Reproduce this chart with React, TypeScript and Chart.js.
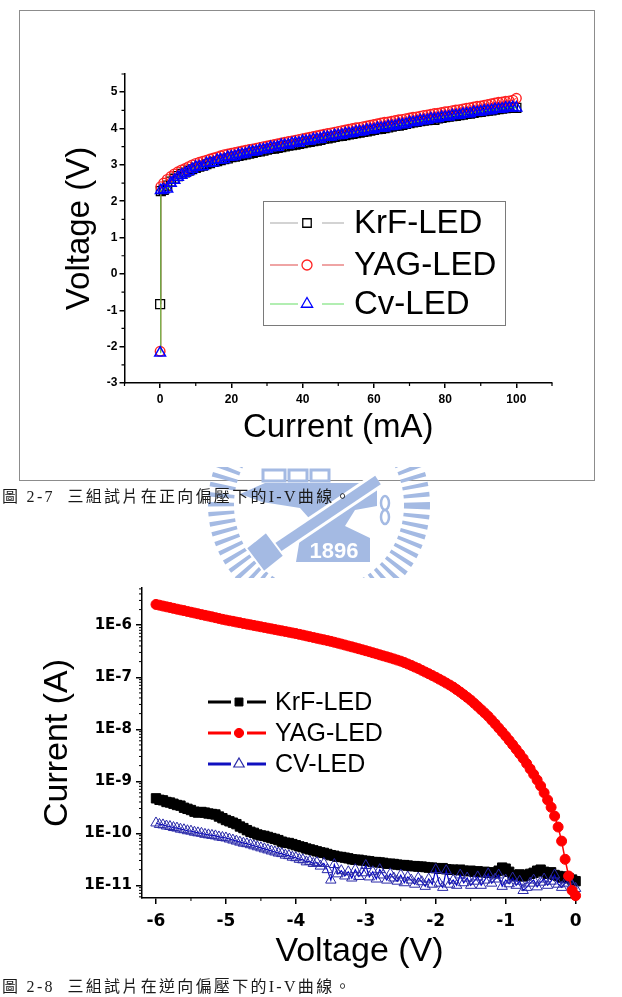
import React, { useEffect, useRef } from "react";
import { Chart, registerables } from "chart.js";

Chart.register(...registerables);

const SANS = '"Liberation Sans", Arial, Helvetica, sans-serif';
const WIDE = '"DejaVu Sans", Verdana, sans-serif';

// ---------------- Figure 2-7 : forward bias ----------------
const fwdCurrent = [
  0, 0.2,
  1, 2, 3, 4, 5, 6, 7, 8, 9, 10,
  11, 12, 13, 14, 15, 16, 17, 18, 19, 20,
  21, 22, 23, 24, 25, 26, 27, 28, 29, 30,
  31, 32, 33, 34, 35, 36, 37, 38, 39, 40,
  41, 42, 43, 44, 45, 46, 47, 48, 49, 50,
  51, 52, 53, 54, 55, 56, 57, 58, 59, 60,
  61, 62, 63, 64, 65, 66, 67, 68, 69, 70,
  71, 72, 73, 74, 75, 76, 77, 78, 79, 80,
  81, 82, 83, 84, 85, 86, 87, 88, 89, 90,
  91, 92, 93, 94, 95, 96, 97, 98, 99, 100,
];
const fwdKrF = [
  -0.83, 2.28,
  2.31, 2.43, 2.54, 2.62, 2.69, 2.75, 2.79, 2.84, 2.88, 2.92,
  2.95, 2.98, 3.02, 3.05, 3.08, 3.10, 3.13, 3.16, 3.18, 3.21,
  3.23, 3.25, 3.27, 3.29, 3.31, 3.33, 3.36, 3.37, 3.39, 3.42,
  3.44, 3.45, 3.47, 3.49, 3.51, 3.53, 3.54, 3.56, 3.58, 3.60,
  3.62, 3.63, 3.65, 3.67, 3.69, 3.72, 3.73, 3.75, 3.77, 3.79,
  3.80, 3.82, 3.84, 3.85, 3.87, 3.89, 3.91, 3.92, 3.94, 3.96,
  3.98, 3.99, 4.01, 4.03, 4.05, 4.07, 4.08, 4.10, 4.13, 4.15,
  4.17, 4.18, 4.20, 4.22, 4.23, 4.25, 4.24, 4.28, 4.29, 4.31,
  4.33, 4.34, 4.35, 4.37, 4.38, 4.40, 4.41, 4.43, 4.45, 4.46,
  4.48, 4.49, 4.50, 4.52, 4.53, 4.55, 4.56, 4.57, 4.58, 4.57,
];
const fwdYAG = [
  -2.13, 2.40,
  2.50, 2.60, 2.68, 2.75, 2.81, 2.86, 2.90, 2.95, 3.00, 3.04,
  3.07, 3.10, 3.13, 3.16, 3.19, 3.22, 3.25, 3.28, 3.30, 3.32,
  3.34, 3.36, 3.38, 3.40, 3.42, 3.44, 3.46, 3.48, 3.50, 3.52,
  3.54, 3.56, 3.58, 3.60, 3.62, 3.64, 3.66, 3.68, 3.70, 3.72,
  3.74, 3.76, 3.78, 3.80, 3.82, 3.84, 3.86, 3.88, 3.90, 3.92,
  3.94, 3.96, 3.98, 4.00, 4.02, 4.03, 4.05, 4.07, 4.09, 4.11,
  4.13, 4.15, 4.17, 4.18, 4.20, 4.22, 4.24, 4.25, 4.27, 4.29,
  4.31, 4.32, 4.34, 4.36, 4.37, 4.39, 4.41, 4.42, 4.44, 4.46,
  4.47, 4.49, 4.51, 4.52, 4.54, 4.56, 4.57, 4.59, 4.61, 4.62,
  4.64, 4.66, 4.68, 4.70, 4.72, 4.73, 4.75, 4.76, 4.78, 4.83,
];
const fwdCv = [
  -2.17, 2.30,
  2.32, 2.34, 2.50, 2.58, 2.66, 2.72, 2.77, 2.82, 2.88, 2.94,
  2.95, 2.96, 3.04, 3.05, 3.06, 3.13, 3.14, 3.15, 3.21, 3.22,
  3.23, 3.28, 3.29, 3.30, 3.35, 3.36, 3.37, 3.41, 3.42, 3.43,
  3.48, 3.48, 3.49, 3.54, 3.54, 3.55, 3.59, 3.60, 3.60, 3.65,
  3.65, 3.66, 3.70, 3.70, 3.71, 3.76, 3.76, 3.77, 3.81, 3.81,
  3.82, 3.86, 3.86, 3.87, 3.91, 3.91, 3.92, 3.96, 3.96, 3.97,
  4.01, 4.01, 4.02, 4.06, 4.06, 4.07, 4.11, 4.11, 4.12, 4.17,
  4.17, 4.18, 4.22, 4.22, 4.23, 4.27, 4.27, 4.28, 4.31, 4.32,
  4.32, 4.36, 4.36, 4.37, 4.40, 4.41, 4.41, 4.45, 4.45, 4.46,
  4.49, 4.49, 4.50, 4.53, 4.53, 4.54, 4.57, 4.57, 4.58, 4.57,
];
const fwdXTicks = [0, 20, 40, 60, 80, 100];
const fwdXMinor = [-10, 10, 30, 50, 70, 90, 110];
const fwdYTicks = [-3, -2, -1, 0, 1, 2, 3, 4, 5];
const fwdYMinor = [-2.5, -1.5, -0.5, 0.5, 1.5, 2.5, 3.5, 4.5, 5.5];
const fwdLabels = ["KrF-LED", "YAG-LED", "Cv-LED"];

// ---------------- Figure 2-8 : reverse bias ----------------
const revVoltage = [
  -6.0, -5.95, -5.9, -5.85, -5.8, -5.75, -5.7, -5.65, -5.6, -5.55,
  -5.5, -5.45, -5.4, -5.35, -5.3, -5.25, -5.2, -5.15, -5.1, -5.05,
  -5.0, -4.95, -4.9, -4.85, -4.8, -4.75, -4.7, -4.65, -4.6, -4.55,
  -4.5, -4.45, -4.4, -4.35, -4.3, -4.25, -4.2, -4.15, -4.1, -4.05,
  -4.0, -3.95, -3.9, -3.85, -3.8, -3.75, -3.7, -3.65, -3.6, -3.55,
  -3.5, -3.45, -3.4, -3.35, -3.3, -3.25, -3.2, -3.15, -3.1, -3.05,
  -3.0, -2.95, -2.9, -2.85, -2.8, -2.75, -2.7, -2.65, -2.6, -2.55,
  -2.5, -2.45, -2.4, -2.35, -2.3, -2.25, -2.2, -2.15, -2.1, -2.05,
  -2.0, -1.95, -1.9, -1.85, -1.8, -1.75, -1.7, -1.65, -1.6, -1.55,
  -1.5, -1.45, -1.4, -1.35, -1.3, -1.25, -1.2, -1.15, -1.1, -1.05,
  -1.0, -0.95, -0.9, -0.85, -0.8, -0.75, -0.7, -0.65, -0.6, -0.55,
  -0.5, -0.45, -0.4, -0.35, -0.3, -0.25, -0.2, -0.15, -0.1, -0.05,
  0.0,
];
const revKrF = [
  4.7e-10, 4.4e-10, 4.3e-10, 4.0e-10, 3.9e-10, 3.7e-10, 3.5e-10, 3.4e-10, 3.1e-10, 2.95e-10,
  2.8e-10, 2.6e-10, 2.5e-10, 2.57e-10, 2.5e-10, 2.4e-10, 2.35e-10, 2.3e-10, 2.1e-10, 1.95e-10,
  1.8e-10, 1.7e-10, 1.6e-10, 1.5e-10, 1.35e-10, 1.26e-10, 1.15e-10, 1.07e-10, 1.02e-10, 9.5e-11,
  9.1e-11, 8.9e-11, 8.5e-11, 8.1e-11, 7.8e-11, 7.4e-11, 6.9e-11, 6.6e-11, 6.5e-11, 6.2e-11,
  5.9e-11, 5.6e-11, 5.4e-11, 5.1e-11, 4.9e-11, 4.7e-11, 4.5e-11, 4.3e-11, 4.2e-11, 4.0e-11,
  3.8e-11, 3.7e-11, 3.55e-11, 3.5e-11, 3.4e-11, 3.3e-11, 3.16e-11, 3.1e-11, 3.1e-11, 3.0e-11,
  2.95e-11, 2.9e-11, 2.8e-11, 2.8e-11, 2.75e-11, 2.7e-11, 2.6e-11, 2.6e-11, 2.57e-11, 2.5e-11,
  2.45e-11, 2.45e-11, 2.4e-11, 2.34e-11, 2.34e-11, 2.29e-11, 2.29e-11, 2.24e-11, 2.19e-11, 2.19e-11,
  2.14e-11, 2.09e-11, 2.14e-11, 2.04e-11, 2.0e-11, 2.0e-11, 1.95e-11, 2.0e-11, 1.91e-11, 1.86e-11,
  1.91e-11, 1.82e-11, 1.86e-11, 1.78e-11, 1.82e-11, 1.74e-11, 1.78e-11, 1.7e-11, 1.91e-11, 2.19e-11,
  2.09e-11, 1.82e-11, 1.58e-11, 1.51e-11, 1.62e-11, 1.48e-11, 1.55e-11, 1.66e-11, 1.74e-11, 1.91e-11,
  2.0e-11, 1.82e-11, 1.66e-11, 1.78e-11, 1.58e-11, 1.51e-11, 1.41e-11, 1.48e-11, 1.38e-11, 1.29e-11,
  1.2e-11,
];
const revYAG = [
  2.51e-6, 2.43e-6, 2.34e-6, 2.26e-6, 2.19e-6, 2.11e-6, 2.04e-6, 1.97e-6, 1.91e-6, 1.84e-6,
  1.78e-6, 1.72e-6, 1.66e-6, 1.6e-6, 1.55e-6, 1.5e-6, 1.45e-6, 1.4e-6, 1.35e-6, 1.3e-6,
  1.26e-6, 1.22e-6, 1.19e-6, 1.15e-6, 1.12e-6, 1.08e-6, 1.05e-6, 1.02e-6, 9.91e-7, 9.62e-7,
  9.33e-7, 9.06e-7, 8.79e-7, 8.53e-7, 8.28e-7, 8.04e-7, 7.8e-7, 7.57e-7, 7.35e-7, 7.13e-7,
  6.92e-7, 6.68e-7, 6.46e-7, 6.24e-7, 6.03e-7, 5.82e-7, 5.62e-7, 5.43e-7, 5.25e-7, 5.07e-7,
  4.9e-7, 4.71e-7, 4.53e-7, 4.35e-7, 4.17e-7, 4.0e-7, 3.84e-7, 3.68e-7, 3.53e-7, 3.38e-7,
  3.24e-7, 3.1e-7, 2.96e-7, 2.83e-7, 2.7e-7, 2.58e-7, 2.47e-7, 2.36e-7, 2.25e-7, 2.14e-7,
  2.04e-7, 1.92e-7, 1.8e-7, 1.69e-7, 1.57e-7, 1.47e-7, 1.36e-7, 1.26e-7, 1.17e-7, 1.08e-7,
  1.0e-7, 9.2e-8, 8.45e-8, 7.74e-8, 7.08e-8, 6.46e-8, 5.79e-8, 5.19e-8, 4.62e-8, 4.1e-8,
  3.63e-8, 3.16e-8, 2.75e-8, 2.38e-8, 2.06e-8, 1.78e-8, 1.5e-8, 1.27e-8, 1.06e-8, 8.89e-9,
  7.41e-9, 6.12e-9, 5.05e-9, 4.14e-9, 3.38e-9, 2.75e-9, 2.19e-9, 1.73e-9, 1.36e-9, 1.06e-9,
  8.13e-10, 6.03e-10, 4.37e-10, 3.16e-10, 2.14e-10, 1.32e-10, 7.08e-11, 3.16e-11, 1.51e-11, 7.94e-12,
  6.31e-12,
];
const revCV = [
  1.58e-10, 1.48e-10, 1.45e-10, 1.38e-10, 1.35e-10, 1.29e-10, 1.26e-10, 1.2e-10, 1.17e-10, 1.12e-10,
  1.1e-10, 1.05e-10, 1.02e-10, 1.0e-10, 9.55e-11, 9.33e-11, 9.12e-11, 8.91e-11, 8.51e-11, 8.32e-11,
  8.13e-11, 7.76e-11, 7.41e-11, 7.08e-11, 6.76e-11, 6.46e-11, 6.31e-11, 6.03e-11, 5.75e-11, 5.5e-11,
  5.25e-11, 5.01e-11, 4.79e-11, 4.57e-11, 4.37e-11, 4.17e-11, 4.07e-11, 3.8e-11, 3.72e-11, 3.47e-11,
  3.39e-11, 3.16e-11, 3.09e-11, 2.82e-11, 2.88e-11, 2.63e-11, 2.75e-11, 2.34e-11, 2.63e-11, 2.0e-11,
  1.26e-11, 2.51e-11, 1.66e-11, 1.91e-11, 1.51e-11, 1.82e-11, 1.38e-11, 2.0e-11, 1.48e-11, 1.74e-11,
  2.4e-11, 1.45e-11, 1.82e-11, 1.32e-11, 2.0e-11, 1.58e-11, 1.26e-11, 1.66e-11, 1.38e-11, 1.2e-11,
  1.58e-11, 1.12e-11, 1.45e-11, 1.26e-11, 1.05e-11, 1.38e-11, 1.17e-11, 9.55e-12, 1.32e-11, 1.05e-11,
  2.0e-11, 1.1e-11, 9.12e-12, 1.91e-11, 1.05e-11, 1.26e-11, 1.0e-11, 1.58e-11, 1.12e-11, 1.38e-11,
  1.0e-11, 1.2e-11, 1.45e-11, 1.0e-11, 1.26e-11, 1.66e-11, 1.1e-11, 1.32e-11, 1.58e-11, 9.55e-12,
  1.26e-11, 1.07e-11, 1.38e-11, 1.0e-11, 1.2e-11, 7.94e-12, 9.12e-12, 1.1e-11, 1.26e-11, 9.33e-12,
  1.15e-11, 1.32e-11, 1.0e-11, 1.2e-11, 1.58e-11, 1.05e-11, 9.12e-12, 1.1e-11, 1.26e-11, 1.0e-11,
  8.71e-12,
];
const revXTicks = [-6, -5, -4, -3, -2, -1, 0];
const revXMinor = [-5.5, -4.5, -3.5, -2.5, -1.5, -0.5];
const revYTicks = [1e-11, 1e-10, 1e-9, 1e-8, 1e-7, 1e-6];
const revYTickLabels = ["1E-11", "1E-10", "1E-9", "1E-8", "1E-7", "1E-6"];
const revYMinorDecades = [1e-12, 1e-11, 1e-10, 1e-9, 1e-8, 1e-7, 1e-6];
const revYMinorSteps = [2, 3, 4, 5, 6, 7, 8, 9];
const revLabels = ["KrF-LED", "YAG-LED", "CV-LED"];

// ---------------- helpers ----------------
const zip = (xs: number[], ys: number[]) => xs.map((x, i) => ({ x, y: ys[i] }));

function drawMarker(ctx: CanvasRenderingContext2D, style: string, x: number, y: number, r: number, stroke: string, fill: string | null, lw: number) {
  ctx.save();
  ctx.beginPath();
  if (style === "circle") {
    ctx.arc(x, y, r, 0, Math.PI * 2);
  } else if (style === "rect") {
    const s = r * Math.SQRT1_2;
    ctx.rect(x - s, y - s, 2 * s, 2 * s);
  } else {
    let a = 0;
    ctx.moveTo(x + Math.sin(a) * r, y - Math.cos(a) * r);
    a += (2 * Math.PI) / 3;
    ctx.lineTo(x + Math.sin(a) * r, y - Math.cos(a) * r);
    a += (2 * Math.PI) / 3;
    ctx.lineTo(x + Math.sin(a) * r, y - Math.cos(a) * r);
    ctx.closePath();
  }
  if (fill) {
    ctx.fillStyle = fill;
    ctx.fill();
  }
  ctx.lineWidth = lw;
  ctx.strokeStyle = stroke;
  ctx.stroke();
  ctx.restore();
}

function minorTicksPlugin(cfg: { x: number[]; y: number[]; len: number; width: number }) {
  return {
    id: "minorTicks",
    afterDraw(chart: any) {
      const { ctx, chartArea: a, scales } = chart;
      ctx.save();
      ctx.strokeStyle = "#000";
      ctx.lineWidth = cfg.width;
      ctx.beginPath();
      cfg.x.forEach((v) => {
        const p = scales.x.getPixelForValue(v);
        if (p < a.left - 1 || p > a.right + 1) return;
        ctx.moveTo(p, a.bottom);
        ctx.lineTo(p, a.bottom + cfg.len);
      });
      cfg.y.forEach((v) => {
        const p = scales.y.getPixelForValue(v);
        if (p < a.top - 1 || p > a.bottom + 1) return;
        ctx.moveTo(a.left, p);
        ctx.lineTo(a.left - cfg.len, p);
      });
      ctx.stroke();
      ctx.restore();
    },
  };
}

type LegendRow = { label: string; y: number; line: string; style: string; r: number; stroke: string; fill: string | null; lw: number };
function legendPlugin(cfg: {
  box?: { x: number; y: number; w: number; h: number; color: string };
  rows: LegendRow[];
  seg1: [number, number];
  seg2: [number, number];
  markerX: number;
  textX: number;
  font: string;
  lineWidth: number;
}) {
  return {
    id: "boxLegend",
    afterDraw(chart: any) {
      const ctx: CanvasRenderingContext2D = chart.ctx;
      ctx.save();
      if (cfg.box) {
        ctx.fillStyle = "#fff";
        ctx.fillRect(cfg.box.x, cfg.box.y, cfg.box.w, cfg.box.h);
        ctx.strokeStyle = cfg.box.color;
        ctx.lineWidth = 1;
        ctx.strokeRect(cfg.box.x + 0.5, cfg.box.y + 0.5, cfg.box.w, cfg.box.h);
      }
      cfg.rows.forEach((row) => {
        ctx.strokeStyle = row.line;
        ctx.lineWidth = cfg.lineWidth;
        ctx.beginPath();
        ctx.moveTo(cfg.seg1[0], row.y);
        ctx.lineTo(cfg.seg1[1], row.y);
        ctx.moveTo(cfg.seg2[0], row.y);
        ctx.lineTo(cfg.seg2[1], row.y);
        ctx.stroke();
        drawMarker(ctx, row.style, cfg.markerX, row.y, row.r, row.stroke, row.fill, row.lw);
        ctx.fillStyle = "#000";
        ctx.font = cfg.font;
        ctx.textBaseline = "middle";
        ctx.textAlign = "left";
        ctx.fillText(row.label, cfg.textX, row.y + 1);
      });
      ctx.restore();
    },
  };
}

const axisCommon = (tickLen: number) => ({
  grid: { display: true, drawOnChartArea: false, drawTicks: true, tickLength: tickLen, color: "#000", lineWidth: 1.5 },
  border: { display: true, color: "#000", width: 1.5 },
});

// ---------------- Figure 2-7 chart ----------------
function ForwardChart() {
  const ref = useRef<HTMLCanvasElement>(null);
  useEffect(() => {
    if (!ref.current) return;
    const chart = new Chart(ref.current, {
      type: "scatter",
      data: {
        datasets: [
          {
            label: fwdLabels[2], data: zip(fwdCurrent, fwdCv), showLine: true, order: 0, clip: false,
            borderColor: "#3ccc3c", borderWidth: 1, pointStyle: "triangle", pointRadius: 6.2,
            pointBorderColor: "#0000ff", pointBackgroundColor: "rgba(0,0,0,0)", pointBorderWidth: 1.5,
          },
          {
            label: fwdLabels[1], data: zip(fwdCurrent, fwdYAG), showLine: true, order: 1, clip: false,
            borderColor: "#ff3030", borderWidth: 1, pointStyle: "circle", pointRadius: 4.8,
            pointBorderColor: "#ff2020", pointBackgroundColor: "rgba(0,0,0,0)", pointBorderWidth: 1.4,
          },
          {
            label: fwdLabels[0], data: zip(fwdCurrent, fwdKrF), showLine: true, order: 2, clip: false,
            borderColor: "#6a6a6a", borderWidth: 1, pointStyle: "rect", pointRadius: 6.3,
            pointBorderColor: "#000", pointBackgroundColor: "rgba(0,0,0,0)", pointBorderWidth: 1.3,
          },
        ],
      } as any,
      options: {
        responsive: false,
        animation: false,
        events: [],
        layout: { padding: { left: 36, right: 42, top: 63, bottom: 28 } },
        plugins: { legend: { display: false }, tooltip: { enabled: false } },
        scales: {
          x: {
            type: "linear", min: -10, max: 110,
            afterBuildTicks: (s: any) => { s.ticks = fwdXTicks.map((v) => ({ value: v })); },
            afterFit: (s: any) => { s.height = 69; },
            ticks: { font: { family: SANS, size: 12, weight: "bold" }, color: "#000", padding: 4, maxRotation: 0, autoSkip: false },
            title: { display: true, text: "Current (mA)", color: "#000", font: { family: SANS, size: 33 }, padding: { top: 4, bottom: 4 } },
            ...axisCommon(5),
          },
          y: {
            type: "linear", min: -3, max: 5.5,
            afterBuildTicks: (s: any) => { s.ticks = fwdYTicks.map((v) => ({ value: v })); },
            afterFit: (s: any) => { s.width = 68.5; },
            ticks: { font: { family: SANS, size: 12, weight: "bold" }, color: "#000", padding: 2, autoSkip: false },
            title: { display: true, text: "Voltage (V)", color: "#000", font: { family: SANS, size: 33 }, padding: { top: 4, bottom: 4 } },
            ...axisCommon(5),
          },
        },
      } as any,
      plugins: [
        minorTicksPlugin({ x: fwdXMinor, y: fwdYMinor, len: 3, width: 1.2 }),
        legendPlugin({
          box: { x: 243, y: 190, w: 242, h: 124, color: "#7a7a7a" },
          rows: [
            { label: fwdLabels[0], y: 212, line: "#a8a8a8", style: "rect", r: 6, stroke: "#000", fill: null, lw: 1.3 },
            { label: fwdLabels[1], y: 254, line: "#e04a4a", style: "circle", r: 5, stroke: "#ff2020", fill: null, lw: 1.3 },
            { label: fwdLabels[2], y: 293, line: "#66dd66", style: "triangle", r: 6.5, stroke: "#0000ff", fill: null, lw: 1.3 },
          ],
          seg1: [250, 278],
          seg2: [302, 324],
          markerX: 287,
          textX: 334,
          font: `33px ${SANS}`,
          lineWidth: 1.2,
        }),
      ],
    });
    return () => chart.destroy();
  }, []);
  return <canvas ref={ref} width={574} height={469} style={{ display: "block" }} />;
}

// ---------------- Figure 2-8 chart ----------------
function ReverseChart() {
  const ref = useRef<HTMLCanvasElement>(null);
  useEffect(() => {
    if (!ref.current) return;
    const yMinor: number[] = [];
    revYMinorDecades.forEach((d) => revYMinorSteps.forEach((m) => yMinor.push(m * d)));
    const chart = new Chart(ref.current, {
      type: "scatter",
      data: {
        datasets: [
          {
            label: revLabels[1], data: zip(revVoltage, revYAG), showLine: true, order: 0, clip: false,
            borderColor: "#ff0000", borderWidth: 1.5, pointStyle: "circle", pointRadius: 5,
            pointBorderColor: "#ff0000", pointBackgroundColor: "#ff0000", pointBorderWidth: 1,
          },
          {
            label: revLabels[2], data: zip(revVoltage, revCV), showLine: true, order: 1, clip: false,
            borderColor: "#0000c8", borderWidth: 1.2, pointStyle: "triangle", pointRadius: 6,
            pointBorderColor: "#2a2aa8", pointBackgroundColor: "rgba(0,0,0,0)", pointBorderWidth: 1,
          },
          {
            label: revLabels[0], data: zip(revVoltage, revKrF), showLine: true, order: 2, clip: false,
            borderColor: "#000", borderWidth: 1.5, pointStyle: "rect", pointRadius: 6.6,
            pointBorderColor: "#000", pointBackgroundColor: "#000", pointBorderWidth: 1,
          },
        ],
      } as any,
      options: {
        responsive: false,
        animation: false,
        events: [],
        layout: { padding: { left: 33, right: 45, top: 5, bottom: 8.6 } },
        plugins: { legend: { display: false }, tooltip: { enabled: false } },
        scales: {
          x: {
            type: "linear", min: -6.2, max: 0.02,
            afterBuildTicks: (s: any) => { s.ticks = revXTicks.map((v) => ({ value: v })); },
            afterFit: (s: any) => { s.height = 78.4; },
            ticks: { font: { family: WIDE, size: 17, weight: "bold" }, color: "#000", padding: 7, maxRotation: 0, autoSkip: false },
            title: { display: true, text: "Voltage (V)", color: "#000", font: { family: SANS, size: 34 }, padding: { top: 4, bottom: 4 } },
            ...axisCommon(6),
          },
          y: {
            type: "logarithmic", min: 5.7e-12, max: 5.2e-6,
            afterBuildTicks: (s: any) => { s.ticks = revYTicks.map((v) => ({ value: v })); },
            afterFit: (s: any) => { s.width = 109; },
            ticks: {
              font: { family: WIDE, size: 15, weight: "bold" }, color: "#000", padding: 4, autoSkip: false,
              callback: (_v: any, i: number) => revYTickLabels[i],
            },
            title: { display: true, text: "Current (A)", color: "#000", font: { family: SANS, size: 34 }, padding: { top: 4, bottom: 4 } },
            ...axisCommon(6),
          },
        },
      } as any,
      plugins: [
        minorTicksPlugin({ x: revXMinor, y: yMinor, len: 3, width: 1 }),
        legendPlugin({
          rows: [
            { label: revLabels[0], y: 127, line: "#000", style: "rect", r: 5.6, stroke: "#000", fill: "#000", lw: 1 },
            { label: revLabels[1], y: 158, line: "#ff0000", style: "circle", r: 4.6, stroke: "#ff0000", fill: "#ff0000", lw: 1 },
            { label: revLabels[2], y: 189, line: "#1010c0", style: "triangle", r: 6, stroke: "#2a2aa8", fill: null, lw: 1.2 },
          ],
          seg1: [208, 231],
          seg2: [247, 266],
          markerX: 239,
          textX: 275,
          font: `25px ${SANS}`,
          lineWidth: 3,
        }),
      ],
    });
    return () => chart.destroy();
  }, []);
  return <canvas ref={ref} width={622} height={410} style={{ display: "block" }} />;
}

function Watermark() {
  const c = "#a4bae3";
  return (
    <svg width={622} height={997} style={{ position: "absolute", left: 0, top: 0, pointerEvents: "none" }}>
      <defs>
        <clipPath id="wmclip">
          <rect x={0} y={467} width={622} height={111} />
        </clipPath>
      </defs>
      <g clipPath="url(#wmclip)">
        <circle cx={319} cy={505} r={98} fill="none" stroke={c} strokeWidth={26} strokeDasharray="4 5" />
        <rect x={263} y={470} width={22} height={11} fill="none" stroke={c} strokeWidth={3} />
        <rect x={289} y={470} width={18} height={11} fill="none" stroke={c} strokeWidth={3} />
        <rect x={311} y={470} width={18} height={11} fill="none" stroke={c} strokeWidth={3} />
        <polygon points="240,494 265,483 377,483 377,506 355,510 345,526 370,538 370,562 296,562 300,538 316,526 300,508 262,502" fill={c} />
        <line x1={378} y1={480} x2={262} y2={558} stroke="#fff" strokeWidth={16} />
        <line x1={378} y1={480} x2={262} y2={558} stroke={c} strokeWidth={10} />
        <polygon points="246,548 266,532 284,556 264,572" fill={c} stroke="#fff" strokeWidth={2} />
        <ellipse cx={385} cy={503} rx={4} ry={7} fill="none" stroke={c} strokeWidth={2.5} />
        <ellipse cx={385} cy={517} rx={4} ry={7} fill="none" stroke={c} strokeWidth={2.5} />
        <text x={334} y={558} textAnchor="middle" fontFamily={SANS} fontWeight="bold" fontSize={22} fill="#fff">1896</text>
      </g>
    </svg>
  );
}

const captionStyle: React.CSSProperties = {
  position: "absolute",
  left: 2,
  fontFamily: '"Liberation Serif", "Noto Sans CJK TC", serif',
  fontSize: 16,
  lineHeight: "18px",
  letterSpacing: "2.3px",
  whiteSpace: "pre",
  color: "#1a1a1a",
};

export default function App() {
  return (
    <div style={{ position: "absolute", left: 0, top: 0, width: 622, height: 997, background: "#fff", overflow: "hidden" }}>
      <div style={{ position: "absolute", left: 19, top: 10, width: 576, height: 471, border: "1px solid #8c8c8c", boxSizing: "border-box", background: "#fff" }}>
        <ForwardChart />
      </div>
      <Watermark />
      <div style={{ position: "absolute", left: 0, top: 578, width: 622, height: 400, background: "#fff" }} />
      <div style={{ position: "absolute", left: 0, top: 575, width: 622, height: 410 }}>
        <ReverseChart />
      </div>
      <div style={{ ...captionStyle, top: 488 }}>{"圖 2-7  三組試片在正向偏壓下的I-V曲線。"}</div>
      <div style={{ ...captionStyle, top: 978 }}>{"圖 2-8  三組試片在逆向偏壓下的I-V曲線。"}</div>
    </div>
  );
}
